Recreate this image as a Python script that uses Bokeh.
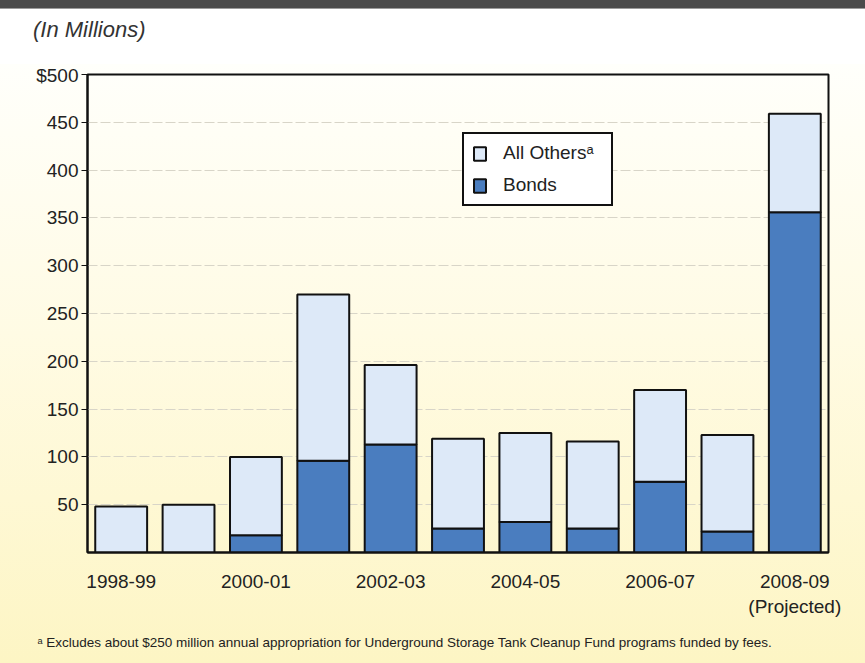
from bokeh.plotting import figure
from bokeh.models import (Range1d, Legend, LegendItem, Div, FixedTicker, Title)
from bokeh.layouts import column
from bokeh.embed import file_html
from bokeh.resources import INLINE

years = ["1998-99", "1999-00", "2000-01", "2001-02", "2002-03", "2003-04",
         "2004-05", "2005-06", "2006-07", "2007-08", "2008-09"]
bonds = [0, 0, 18, 96, 113, 25, 32, 25, 74, 22, 356]
totals = [48, 50, 100, 270, 196, 119, 125, 116, 170, 123, 459]
others = [t - b for t, b in zip(totals, bonds)]
shown_labels = {"1998-99": "1998-99", "2000-01": "2000-01", "2002-03": "2002-03",
                "2004-05": "2004-05", "2006-07": "2006-07",
                "2008-09": "2008-09\n(Projected)"}
y_ticks = [50, 100, 150, 200, 250, 300, 350, 400, 450, 500]
legend_labels = ["All Othersᵃ", "Bonds"]
title_text = "(In Millions)"
footnote_text = "ᵃ Excludes about $250 million annual appropriation for Underground Storage Tank Cleanup Fund programs funded by fees."

FONT = "Liberation Sans"
BONDS_C = "#4a7dbf"
OTHERS_C = "#dde9f8"
TXT = "#222222"

idx = list(range(len(years)))

p = figure(x_range=Range1d(-0.5, len(years) - 0.5), y_range=Range1d(0, 500),
           frame_width=741, frame_height=478,
           min_border_left=87, min_border_right=37, min_border_top=10, min_border_bottom=111,
           output_backend="svg", toolbar_location=None, title=None,
           background_fill_color=None, border_fill_color=None)
p.styles = {"background": "linear-gradient(#fffffb 0%, #fffbe4 45%, #fdf5c4 100%)"}

src = dict(x=idx, years=years, bonds=bonds, others=others)
r = p.vbar_stack(["bonds", "others"], x="x", width=0.77, source=src,
                 fill_color=[BONDS_C, OTHERS_C], line_color="#111111", line_width=2)

p.outline_line_color = "#111111"
p.outline_line_width = 2
p.outline_line_alpha = 1

p.yaxis.ticker = FixedTicker(ticks=y_ticks)
p.yaxis.major_label_overrides = {500: "$500"}
p.yaxis.axis_line_color = "#111111"
p.yaxis.axis_line_width = 2
p.yaxis.major_tick_line_color = "#111111"
p.yaxis.major_tick_out = 6
p.yaxis.major_tick_in = 0
p.yaxis.minor_tick_line_color = None
p.yaxis.major_label_text_font = FONT
p.yaxis.major_label_text_font_size = "19px"
p.yaxis.major_label_text_color = TXT
p.yaxis.major_label_standoff = 3

p.xaxis.ticker = FixedTicker(ticks=idx)
p.xaxis.major_label_overrides = {i: shown_labels.get(y, "") for i, y in zip(idx, years)}
p.xaxis.axis_line_color = "#111111"
p.xaxis.axis_line_width = 2
p.xaxis.major_tick_line_color = None
p.xaxis.minor_tick_line_color = None
p.xaxis.major_label_text_font = FONT
p.xaxis.major_label_text_font_size = "19px"
p.xaxis.major_label_text_color = TXT
p.xaxis.major_label_standoff = 12

p.xgrid.grid_line_color = None
p.ygrid.grid_line_color = "#d8d5c8"
p.ygrid.grid_line_width = 1
p.ygrid.grid_line_dash = "10 3"

legend = Legend(items=[LegendItem(label=legend_labels[0], renderers=[r[1]]),
                       LegendItem(label=legend_labels[1], renderers=[r[0]])],
                location=(375, 346), border_line_color="#111111", border_line_width=2,
                border_line_alpha=1,
                background_fill_color="white", background_fill_alpha=1,
                label_text_font=FONT, label_text_font_size="19px", label_text_color=TXT,
                glyph_width=15, glyph_height=17, label_height=20, label_width=100,
                spacing=10, padding=8, margin=0, label_standoff=16)
p.add_layout(legend)

foot = Title(text=footnote_text, align="left", offset=-50, standoff=26,
             text_font=FONT, text_font_size="13.5px", text_font_style="normal",
             text_color=TXT)
p.add_layout(foot, "below")

header = Div(
    text=('<div style="position:absolute;left:33px;top:14px;font-family:\'Liberation Sans\';'
          'font-style:italic;font-size:22px;color:#333333;white-space:nowrap">'
          + title_text + '</div>'),
    width=865, height=64,
    styles={"background": ("linear-gradient(#4a4a4a 0px, #4a4a4a 8px, #9a9a9a 8px, "
                            "#9a9a9a 9px, #ffffff 9px, #ffffff 100%)"),
            "margin": "0", "padding": "0", "position": "relative"})
layout = column(header, p, spacing=0)

open("out.html", "w").write(file_html(layout, INLINE))
